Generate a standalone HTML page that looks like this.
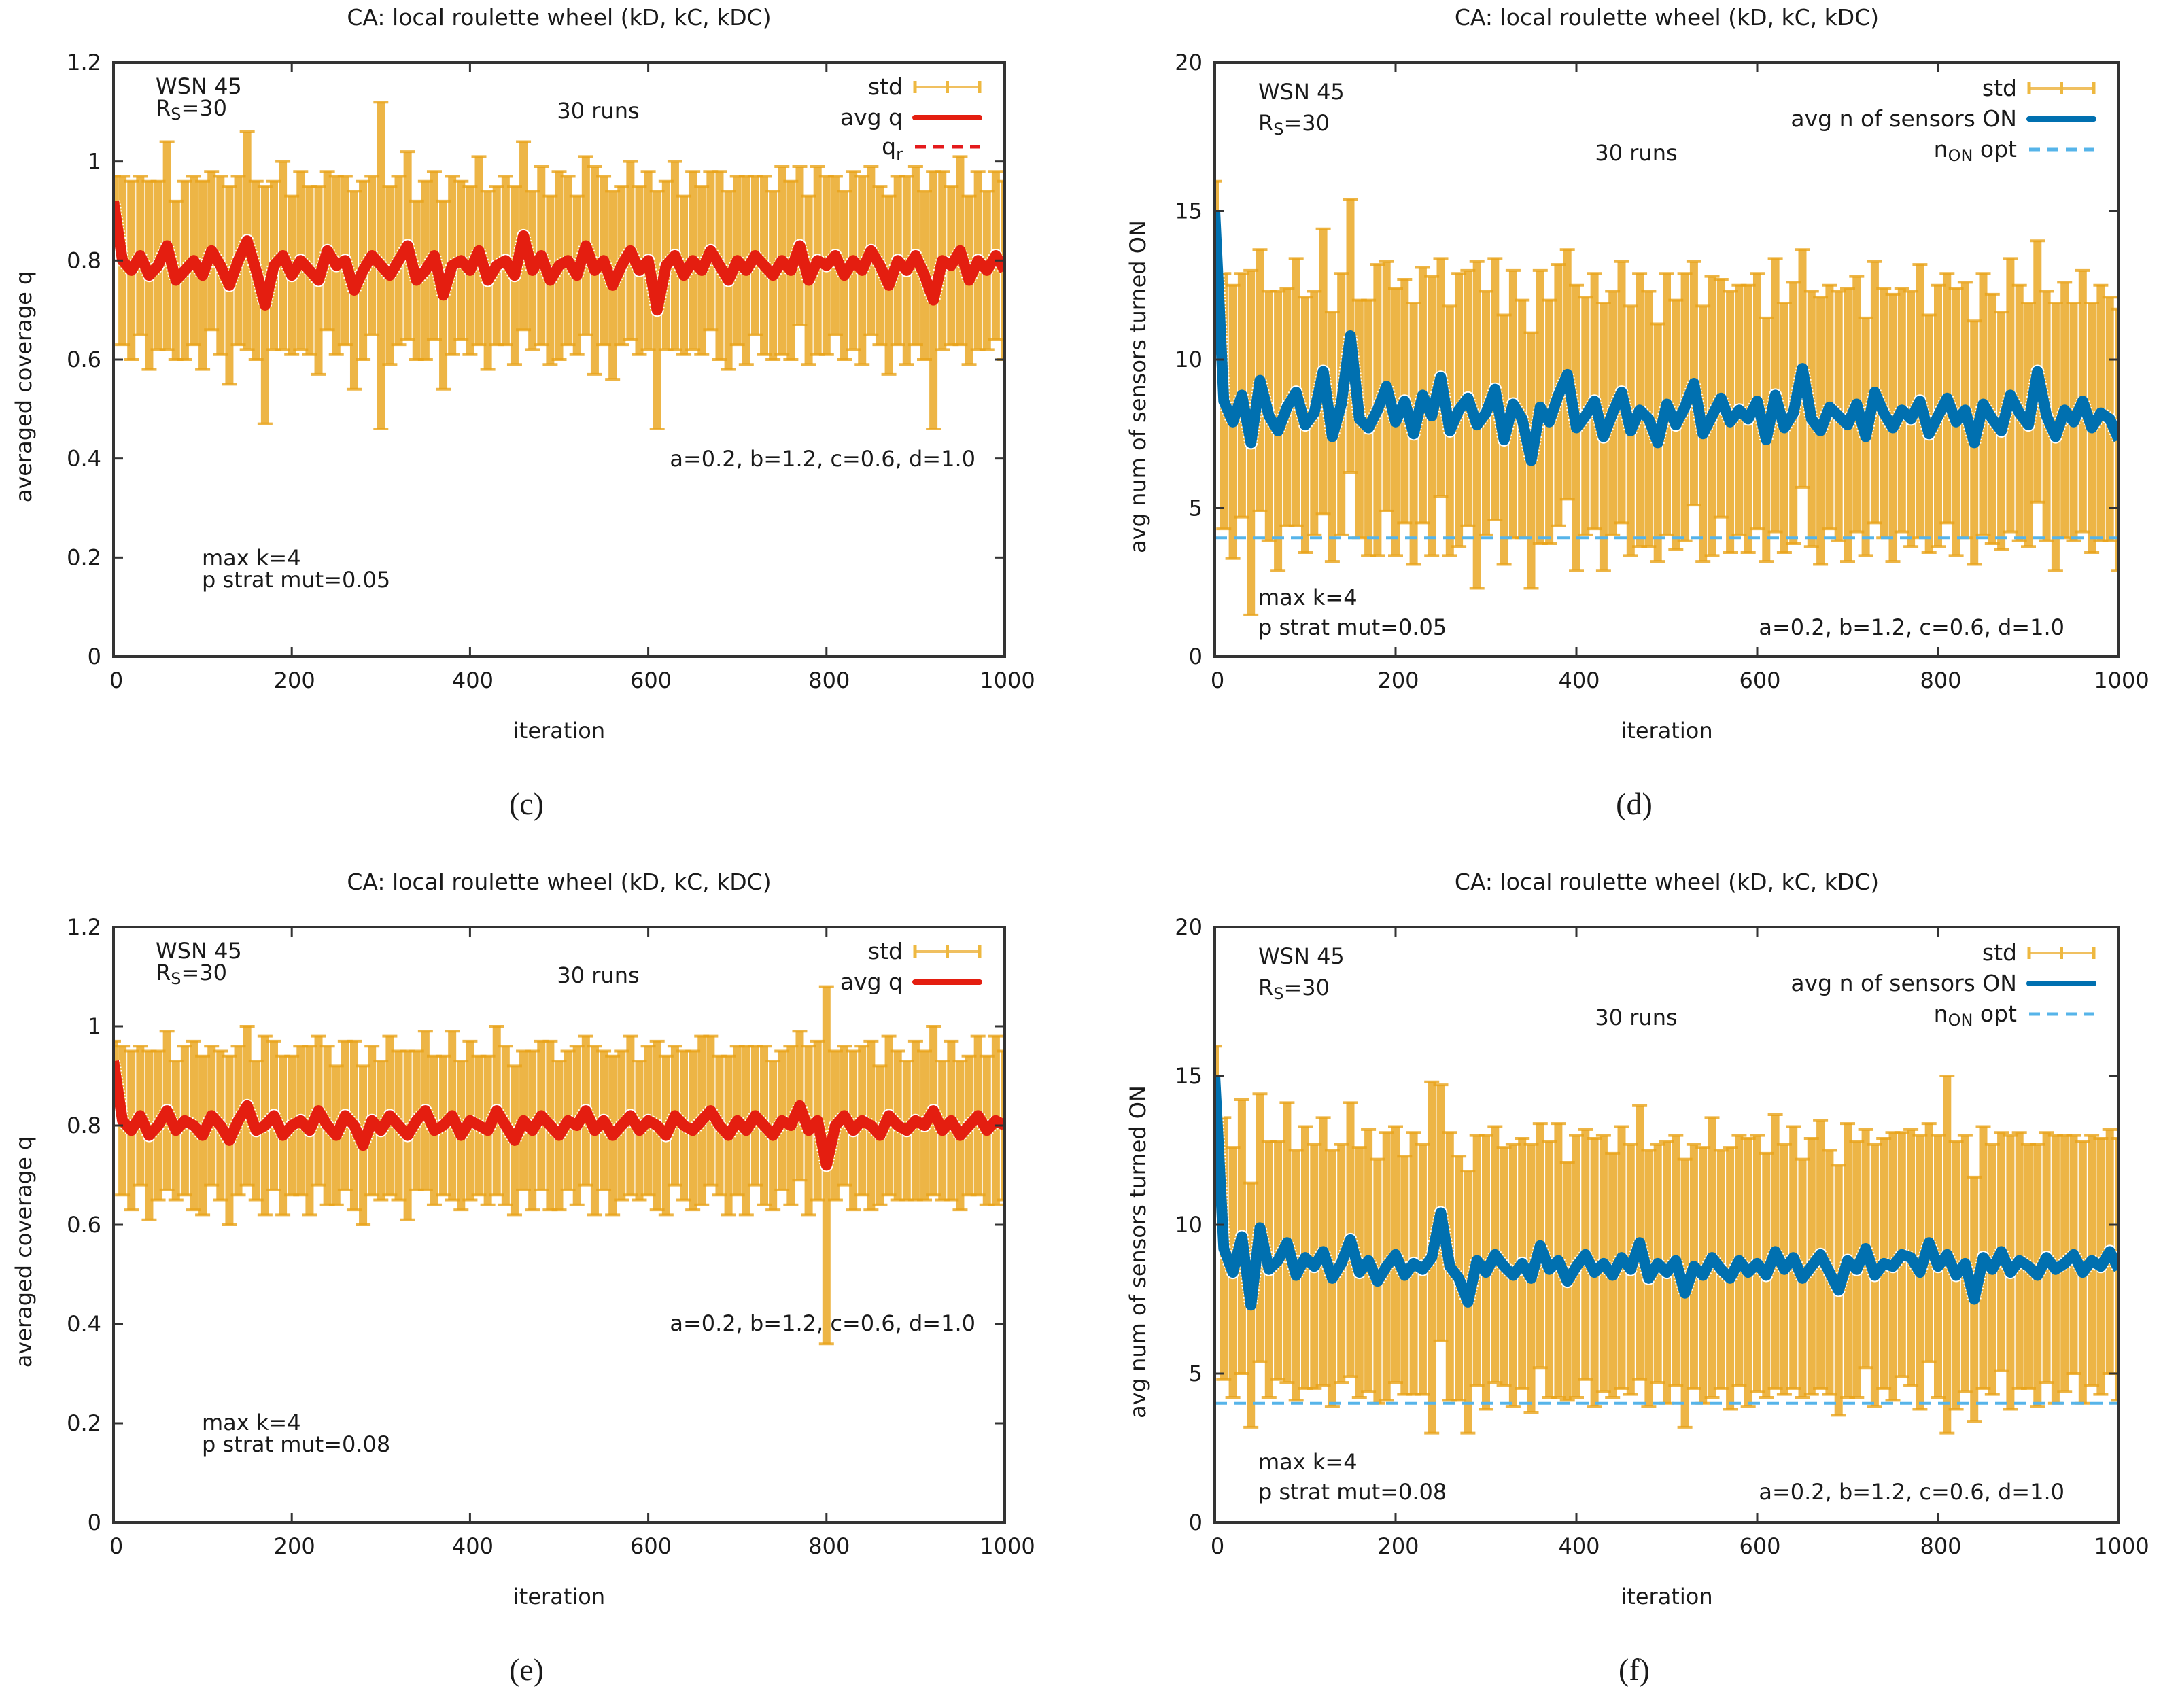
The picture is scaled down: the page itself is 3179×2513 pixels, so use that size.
<!DOCTYPE html>
<html><head><meta charset="utf-8">
<style>
html,body{margin:0;padding:0;background:#fff;}
svg{display:block;font-family:"DejaVu Sans","Liberation Sans",sans-serif;}
</style></head>
<body>
<svg id="fig" width="3179" height="2513" viewBox="0 0 3179 2513" xmlns="http://www.w3.org/2000/svg"></svg>
<script>
// ---------- data ----------
const iterations = [];
for (let k = 0; k <= 100; k++) iterations.push(k * 10);
const xTicks = [0, 200, 400, 600, 800, 1000];
const qTicks = [0, 0.2, 0.4, 0.6, 0.8, 1, 1.2];
const qTickLabels = ["0", "0.2", "0.4", "0.6", "0.8", "1", "1.2"];
const nTicks = [0, 5, 10, 15, 20];
const nTickLabels = ["0", "5", "10", "15", "20"];

const cMean = [0.92,0.80,0.78,0.81,0.77,0.79,0.83,0.76,0.78,0.80,
0.77,0.82,0.79,0.75,0.80,0.84,0.78,0.71,0.79,0.81,
0.77,0.80,0.78,0.76,0.82,0.79,0.80,0.74,0.78,0.81,
0.79,0.77,0.80,0.83,0.76,0.78,0.81,0.73,0.79,0.80,
0.78,0.82,0.76,0.79,0.80,0.77,0.85,0.78,0.81,0.76,
0.79,0.80,0.77,0.83,0.78,0.80,0.75,0.79,0.82,0.78,
0.80,0.70,0.79,0.81,0.77,0.80,0.78,0.82,0.79,0.76,
0.80,0.78,0.81,0.79,0.77,0.80,0.78,0.83,0.76,0.80,
0.79,0.81,0.77,0.80,0.78,0.82,0.79,0.75,0.80,0.78,
0.81,0.77,0.72,0.80,0.79,0.82,0.76,0.80,0.78,0.81,0.78];
const cStd = [0.05,0.17,0.18,0.16,0.19,0.17,0.21,0.16,0.18,0.17,
0.19,0.16,0.18,0.20,0.17,0.22,0.18,0.24,0.17,0.19,
0.16,0.18,0.17,0.19,0.16,0.18,0.17,0.20,0.18,0.16,
0.33,0.18,0.17,0.19,0.16,0.18,0.17,0.19,0.18,0.16,
0.17,0.19,0.18,0.16,0.17,0.18,0.19,0.16,0.18,0.17,
0.19,0.17,0.16,0.18,0.21,0.17,0.19,0.16,0.18,0.17,
0.18,0.24,0.17,0.19,0.16,0.18,0.17,0.16,0.19,0.18,
0.17,0.19,0.16,0.18,0.17,0.19,0.18,0.16,0.17,0.19,
0.18,0.16,0.17,0.18,0.19,0.17,0.16,0.18,0.17,0.19,
0.18,0.17,0.26,0.18,0.16,0.19,0.17,0.18,0.16,0.17,0.18];

const dMean = [15.0,8.6,7.9,8.8,7.2,9.3,8.1,7.6,8.4,8.9,
7.8,8.2,9.6,7.4,8.5,10.8,8.0,7.7,8.3,9.1,
7.9,8.6,7.5,8.8,8.1,9.4,7.6,8.3,8.7,7.8,
8.2,9.0,7.3,8.5,8.0,6.6,8.4,7.9,8.8,9.5,
7.7,8.1,8.6,7.4,8.2,8.9,7.6,8.3,8.0,7.2,
8.5,7.8,8.4,9.2,7.5,8.1,8.7,7.9,8.3,8.0,
8.6,7.3,8.8,7.7,8.2,9.7,8.0,7.6,8.4,8.1,
7.8,8.5,7.4,8.9,8.2,7.7,8.3,8.0,8.6,7.5,
8.1,8.7,7.9,8.3,7.2,8.5,8.0,7.6,8.8,8.2,
7.8,9.6,8.1,7.4,8.3,7.9,8.6,7.7,8.2,8.0,7.3];
const dStd = [1.0,4.3,4.6,4.1,5.8,4.4,4.2,4.7,4.0,4.5,
4.3,4.1,4.8,4.2,4.4,4.6,4.0,4.3,4.9,4.2,
4.5,4.1,4.4,4.3,4.7,4.0,4.2,4.6,4.3,5.5,
4.1,4.4,4.2,4.5,4.0,4.3,4.6,4.1,4.4,4.2,
4.8,4.0,4.3,4.5,4.1,4.4,4.2,4.6,4.3,4.0,
4.4,4.2,4.5,4.1,4.3,4.7,4.0,4.4,4.2,4.5,
4.3,4.1,4.6,4.2,4.4,4.0,4.3,4.5,4.1,4.2,
4.6,4.3,4.0,4.4,4.2,4.5,4.1,4.3,4.6,4.0,
4.4,4.2,4.5,4.3,4.1,4.4,4.2,4.0,4.6,4.3,
4.1,4.4,4.2,4.5,4.3,4.0,4.4,4.2,4.3,4.1,4.4];

const eMean = [0.93,0.81,0.79,0.82,0.78,0.80,0.83,0.79,0.81,0.80,
0.78,0.82,0.80,0.77,0.81,0.84,0.79,0.80,0.82,0.78,
0.80,0.81,0.79,0.83,0.80,0.78,0.82,0.80,0.76,0.81,
0.79,0.82,0.80,0.78,0.81,0.83,0.79,0.80,0.82,0.78,
0.81,0.80,0.79,0.83,0.80,0.77,0.81,0.79,0.82,0.80,
0.78,0.81,0.80,0.83,0.79,0.81,0.78,0.80,0.82,0.79,
0.81,0.80,0.78,0.82,0.80,0.79,0.81,0.83,0.80,0.78,
0.81,0.79,0.82,0.80,0.78,0.81,0.80,0.84,0.79,0.81,
0.72,0.80,0.82,0.79,0.81,0.80,0.78,0.82,0.80,0.79,
0.81,0.80,0.83,0.79,0.81,0.78,0.80,0.82,0.79,0.81,0.80];
const eStd = [0.04,0.15,0.16,0.14,0.17,0.15,0.16,0.14,0.15,0.17,
0.16,0.14,0.15,0.17,0.15,0.16,0.14,0.18,0.15,0.16,
0.14,0.15,0.17,0.15,0.16,0.14,0.15,0.17,0.16,0.15,
0.14,0.16,0.15,0.17,0.14,0.16,0.15,0.14,0.17,0.15,
0.16,0.14,0.15,0.17,0.16,0.15,0.14,0.16,0.15,0.17,
0.15,0.14,0.16,0.15,0.17,0.14,0.16,0.15,0.16,0.14,
0.15,0.17,0.16,0.14,0.15,0.16,0.17,0.15,0.14,0.16,
0.15,0.17,0.14,0.16,0.15,0.14,0.16,0.15,0.17,0.16,
0.36,0.15,0.14,0.16,0.15,0.17,0.14,0.16,0.15,0.14,
0.16,0.15,0.17,0.14,0.16,0.15,0.14,0.16,0.15,0.17,0.15];

const fMean = [15.0,9.2,8.4,9.6,7.3,9.9,8.5,8.8,9.4,8.3,
8.9,8.6,9.1,8.2,8.7,9.5,8.4,8.8,8.1,8.6,
9.0,8.3,8.7,8.5,8.9,10.4,8.6,8.2,7.4,8.8,
8.4,9.0,8.6,8.3,8.7,8.2,9.3,8.5,8.8,8.1,
8.6,9.0,8.4,8.7,8.3,8.9,8.5,9.4,8.2,8.7,
8.4,8.8,7.7,8.6,8.3,8.9,8.5,8.2,8.8,8.4,
8.7,8.3,9.1,8.5,8.9,8.2,8.6,9.0,8.4,7.8,
8.8,8.5,9.2,8.3,8.7,8.6,9.0,8.9,8.4,9.4,
8.6,9.0,8.3,8.7,7.5,8.9,8.5,9.1,8.4,8.8,
8.6,8.3,8.9,8.5,8.7,9.0,8.4,8.8,8.6,9.1,8.5];
const fStd = [1.0,4.4,4.2,4.6,4.1,4.5,4.3,4.0,4.7,4.2,
4.4,4.1,4.5,4.3,4.0,4.6,4.2,4.4,4.1,4.5,
4.3,4.0,4.4,4.2,5.9,4.3,4.5,4.1,4.4,4.2,
4.6,4.3,4.0,4.4,4.2,4.5,4.1,4.3,4.6,4.0,
4.4,4.2,4.5,4.3,4.1,4.4,4.2,4.6,4.3,4.0,
4.4,4.2,4.5,4.1,4.3,4.7,4.0,4.4,4.2,4.5,
4.3,4.1,4.6,4.2,4.4,4.0,4.3,4.5,4.1,4.2,
4.6,4.3,4.0,4.4,4.2,4.5,4.1,4.3,4.6,4.0,
4.4,6.0,4.5,4.3,4.1,4.4,4.2,4.0,4.6,4.3,
4.1,4.4,4.2,4.5,4.3,4.0,4.4,4.2,4.3,4.1,4.4];
const nOptValue = 4;

// ---------- drawing ----------
const NS = "http://www.w3.org/2000/svg";
const svg = document.getElementById("fig");
function mk(tag, attrs, parent, txt) {
  const e = document.createElementNS(NS, tag);
  for (const k in attrs) e.setAttribute(k, attrs[k]);
  if (txt !== undefined) e.textContent = txt;
  (parent || svg).appendChild(e);
  return e;
}
const ORANGE = "#e9a318", TEXT = "#1a1a1a";

function panel(p) {
  const g = mk("g", {});
  
  
  const L = p.x0, R = p.x1, T = p.y0, B = p.y1;
  const xs = v => L + (v - 0) / 1000 * (R - L);
  const ys = v => B - (v - p.ymin) / (p.ymax - p.ymin) * (B - T);
  const cid = "clip-" + p.name;
  const defs = mk("defs", {}, g);
  const cp = mk("clipPath", { id: cid }, defs);
  mk("rect", { x: L, y: T, width: R - L, height: B - T }, cp);

  const title = mk("text", { x: (L + R) / 2, y: T - 55, "text-anchor": "middle", "font-size": 33, fill: TEXT }, g, "CA: local roulette wheel (kD, kC, kDC)");
  
  

  const eb = mk("g", { "clip-path": "url(#" + cid + ")" }, g);
  
  
  for (let i = 0; i < iterations.length; i++) {
    const x = xs(iterations[i]);
    const lo = ys(p.mean[i] - p.std[i]), hi = ys(p.mean[i] + p.std[i]);
    const bar = mk("line", { x1: x, x2: x, y1: lo, y2: hi, stroke: ORANGE, "stroke-width": 12, "stroke-opacity": 0.8 }, eb);
    
    
    mk("line", { x1: x - 11, x2: x + 11, y1: lo, y2: lo, stroke: ORANGE, "stroke-width": 4, "stroke-opacity": 0.8 }, eb);
    mk("line", { x1: x - 11, x2: x + 11, y1: hi, y2: hi, stroke: ORANGE, "stroke-width": 4, "stroke-opacity": 0.8 }, eb);
  }
  if (p.opt !== undefined) {
    const ol = mk("line", { x1: L, x2: R, y1: ys(p.opt), y2: ys(p.opt), stroke: "#56b4e9", "stroke-width": 4, "stroke-dasharray": "18 10" }, g);
    
    
  }
  const pts = iterations.map((it, i) => xs(it).toFixed(1) + "," + ys(p.mean[i]).toFixed(1)).join(" ");
  const mg = mk("g", { "clip-path": "url(#" + cid + ")" }, g);
  mk("polyline", { points: pts, fill: "none", stroke: "#fff", "stroke-width": 20, "stroke-linejoin": "round", "stroke-dasharray": "2 3" }, mg);
  const ml = mk("polyline", { points: pts, fill: "none", stroke: p.color, "stroke-width": 16, "stroke-linejoin": "round" }, mg);
  
  

  const fr = mk("rect", { x: L, y: T, width: R - L, height: B - T, fill: "none", stroke: "#333", "stroke-width": 4 }, g);
  
  

  xTicks.forEach(v => {
    const x = xs(v);
    mk("line", { x1: x, x2: x, y1: B, y2: B - 14, stroke: "#333", "stroke-width": 3 }, g);
    mk("line", { x1: x, x2: x, y1: T, y2: T + 14, stroke: "#333", "stroke-width": 3 }, g);
    const t = mk("text", { x: x + 4, y: B + 46, "text-anchor": "middle", "font-size": 32, fill: TEXT }, g, String(v));
    
    
  });
  p.ticks.forEach((v, i) => {
    const y = ys(v);
    mk("line", { x1: L, x2: L + 14, y1: y, y2: y, stroke: "#333", "stroke-width": 3 }, g);
    mk("line", { x1: R, x2: R - 14, y1: y, y2: y, stroke: "#333", "stroke-width": 3 }, g);
    const t = mk("text", { x: L - 18, y: y + 11, "text-anchor": "end", "font-size": 32, fill: TEXT }, g, p.tickLabels[i]);
    
    
  });
  const xt = mk("text", { x: (L + R) / 2, y: B + 120, "text-anchor": "middle", "font-size": 32, fill: TEXT }, g, "iteration");
  
  
  const yx = p.ytitleX, yy = (T + B) / 2 + 40;
  const yt = mk("text", { x: yx, y: yy, "text-anchor": "middle", "font-size": 32, fill: TEXT, transform: "rotate(-90 " + yx + " " + yy + ")" }, g, p.ytitle);
  
  

  const ann = mk("g", { "font-size": 32, fill: TEXT }, g);
  
  
  p.ann.forEach(a => {
    const t = mk("text", { x: L + a[0], y: T + a[1], "text-anchor": a[3] || "start" }, ann);
    t.innerHTML = a[2];
  });

  const lg = mk("g", { "font-size": 33, fill: TEXT }, g);
  
  
  const lx = R - p.legOff;
  p.legend.forEach((e, k) => {
    const y = T + e.dy;
    const t = mk("text", { x: lx, y: y + 11, "text-anchor": "end" }, lg);
    t.innerHTML = e.label;
    
    
    const s0 = lx + 18, s1 = lx + 113;
    if (e.type === "err") {
      mk("line", { x1: s0, x2: s1, y1: y, y2: y, stroke: "#f0c060", "stroke-width": 4 }, lg);
      [s0, (s0 + s1) / 2, s1].forEach(xx => mk("line", { x1: xx, x2: xx, y1: y - 9, y2: y + 9, stroke: "#eeb840", "stroke-width": 5 }, lg));
    } else if (e.type === "line") {
      mk("line", { x1: s0, x2: s1, y1: y, y2: y, stroke: p.color, "stroke-width": 8, "stroke-linecap": "round" }, lg);
    } else {
      mk("line", { x1: s0, x2: s1, y1: y, y2: y, stroke: e.color, "stroke-width": 5, "stroke-dasharray": "16 11" }, lg);
    }
  });

  const sl = mk("text", { x: (L + R) / 2 - 48, y: B + 232, "text-anchor": "middle", "font-size": 46, fill: TEXT, "font-family": "Liberation Serif, serif" }, g, p.sub);
  
  
}

const qLegendC = [
  { label: "std", type: "err", dy: 36 },
  { label: "avg q", type: "line", dy: 81 },
  { label: "q<tspan font-size='24' dy='8'>r</tspan>", type: "dash", color: "#e41a1c", dy: 124 }];
const qLegendE = [
  { label: "std", type: "err", dy: 36 },
  { label: "avg q", type: "line", dy: 81 }];
const nLegend = [
  { label: "std", type: "err", dy: 38 },
  { label: "avg n of sensors ON", type: "line", dy: 83 },
  { label: "n<tspan font-size='24' dy='6'>ON</tspan><tspan dy='-6'> opt</tspan>", type: "dash", color: "#56b4e9", dy: 128 }];

const rsTxt = "R<tspan font-size='24' dy='6'>S</tspan><tspan dy='-6'>=30</tspan>";

panel({ name: "panel-c", x0: 167, x1: 1478, y0: 92, y1: 966, ymin: 0, ymax: 1.2, ticks: qTicks, tickLabels: qTickLabels,
  mean: cMean, std: cStd, color: "#e41e10", ytitle: "averaged coverage q", ytitleX: 46, sub: "(c)", legend: qLegendC, legOff: 150,
  ann: [[62, 46, "WSN 45"], [62, 78, rsTxt], [713, 82, "30 runs", "middle"], [1268, 594, "a=0.2, b=1.2, c=0.6, d=1.0", "end"], [130, 740, "max k=4"], [130, 772, "p strat mut=0.05"]] });

panel({ name: "panel-d", x0: 1787, x1: 3117, y0: 92, y1: 966, ymin: 0, ymax: 20, ticks: nTicks, tickLabels: nTickLabels, opt: nOptValue,
  mean: dMean, std: dStd, color: "#0070b0", ytitle: "avg num of sensors turned ON", ytitleX: 1685, sub: "(d)", legend: nLegend, legOff: 150,
  ann: [[64, 54, "WSN 45"], [64, 100, rsTxt], [620, 144, "30 runs", "middle"], [64, 798, "max k=4"], [64, 842, "p strat mut=0.05"], [1250, 842, "a=0.2, b=1.2, c=0.6, d=1.0", "end"]] });

panel({ name: "panel-e", x0: 167, x1: 1478, y0: 1364, y1: 2240, ymin: 0, ymax: 1.2, ticks: qTicks, tickLabels: qTickLabels,
  mean: eMean, std: eStd, color: "#e41e10", ytitle: "averaged coverage q", ytitleX: 46, sub: "(e)", legend: qLegendE, legOff: 150,
  ann: [[62, 46, "WSN 45"], [62, 78, rsTxt], [713, 82, "30 runs", "middle"], [1268, 594, "a=0.2, b=1.2, c=0.6, d=1.0", "end"], [130, 740, "max k=4"], [130, 772, "p strat mut=0.08"]] });

panel({ name: "panel-f", x0: 1787, x1: 3117, y0: 1364, y1: 2240, ymin: 0, ymax: 20, ticks: nTicks, tickLabels: nTickLabels, opt: nOptValue,
  mean: fMean, std: fStd, color: "#0070b0", ytitle: "avg num of sensors turned ON", ytitleX: 1685, sub: "(f)", legend: nLegend, legOff: 150,
  ann: [[64, 54, "WSN 45"], [64, 100, rsTxt], [620, 144, "30 runs", "middle"], [64, 798, "max k=4"], [64, 842, "p strat mut=0.08"], [1250, 842, "a=0.2, b=1.2, c=0.6, d=1.0", "end"]] });
</script>
</body></html>
